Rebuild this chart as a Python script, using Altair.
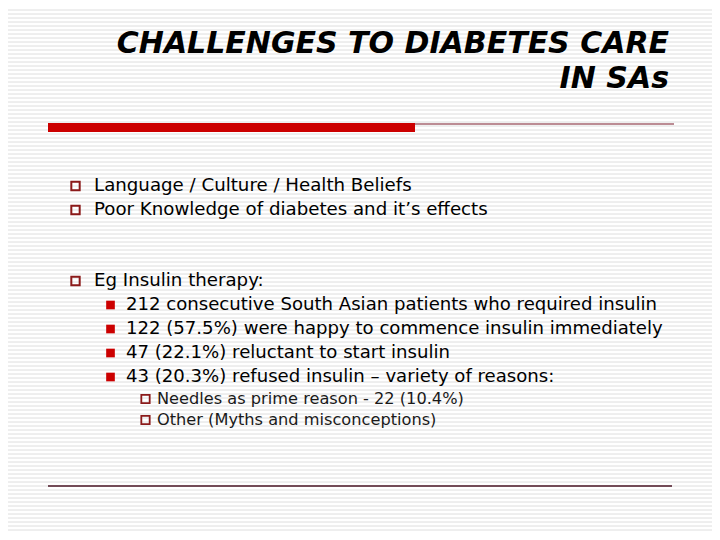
import altair as alt
import pandas as pd

# ---- content ----
title_lines = ["CHALLENGES TO DIABETES CARE", "IN SAs"]
level1_top = ["Language / Culture / Health Beliefs",
              "Poor Knowledge of diabetes and it\u2019s effects"]
level1_mid = ["Eg Insulin therapy:"]
level2 = ["212 consecutive South Asian patients who required insulin",
          "122 (57.5%) were happy to commence insulin immediately",
          "47 (22.1%) reluctant to start insulin",
          "43 (20.3%) refused insulin \u2013 variety of reasons:"]
level3 = ["Needles as prime reason - 22 (10.4%)",
          "Other (Myths and misconceptions)"]

# ---- layout (page pixel coordinates) ----
W, H = 720, 540
M = 8
title_right = 669
title_base = [53, 88]
l1_x, l1_bx = 94, 75.5
l2_x, l2_bx = 126, 110.5
l3_x, l3_bx = 157, 145.5
l1_top_base = [191, 215]
l1_mid_base = [286]
l2_base0, l2_step = 310, 24
l3_base0, l3_step = 404, 21

xs = alt.Scale(domain=[M, W - M], range=[0, W - 2 * M], nice=False, zero=False)
ys = alt.Scale(domain=[M, H - M], range=[0, H - 2 * M], nice=False, zero=False)
X = lambda f: alt.X(f, type="quantitative", scale=xs, axis=None)
Y = lambda f: alt.Y(f, type="quantitative", scale=ys, axis=None)
X2 = lambda f: alt.X2(f)
Y2 = lambda f: alt.Y2(f)

# background stripes
stripes = pd.DataFrame({"y": list(range(10, H - M, 4))})
bg = alt.Chart(stripes).mark_rule(color="#dedede", strokeWidth=1).encode(
    y=Y("y"), x=alt.value(0), x2=alt.value(W - 2 * M))

title_df = pd.DataFrame({"t": title_lines, "x": [title_right] * 2, "y": title_base})
title = alt.Chart(title_df).mark_text(
    align="right", baseline="alphabetic", font="DejaVu Sans", fontSize=30,
    fontStyle="italic", fontWeight="bold", color="#000000").encode(
    x=X("x"), y=Y("y"), text="t:N")

bar_df = pd.DataFrame({"x": [48], "x2": [415], "y": [123], "y2": [132]})
bar = alt.Chart(bar_df).mark_rect(color="#cc0000").encode(
    x=X("x"), x2=X2("x2"), y=Y("y"), y2=Y2("y2"))
thin_df = pd.DataFrame({"x": [415], "x2": [674], "y": [124]})
thin = alt.Chart(thin_df).mark_rule(color="#7a1a2a", strokeWidth=1.2).encode(
    x=X("x"), x2=X2("x2"), y=Y("y"))
bot_df = pd.DataFrame({"x": [48], "x2": [672], "y": [486]})
bot = alt.Chart(bot_df).mark_rule(color="#4a1424", strokeWidth=1.6).encode(
    x=X("x"), x2=X2("x2"), y=Y("y"))

l1_texts = level1_top + level1_mid
l1_bases = l1_top_base + l1_mid_base
l1_df = pd.DataFrame({"t": l1_texts, "x": [l1_x] * 3, "bx": [l1_bx] * 3,
                      "y": l1_bases, "by": [b - 5 for b in l1_bases]})
l2_bases = [l2_base0 + i * l2_step for i in range(len(level2))]
l2_df = pd.DataFrame({"t": level2, "x": [l2_x] * 4, "bx": [l2_bx] * 4,
                      "y": l2_bases, "by": [b - 5 for b in l2_bases]})
l3_bases = [l3_base0 + i * l3_step for i in range(len(level3))]
l3_df = pd.DataFrame({"t": level3, "x": [l3_x] * 2, "bx": [l3_bx] * 2,
                      "y": l3_bases, "by": [b - 5 for b in l3_bases]})

def text_layer(df, size, color="#000000"):
    return alt.Chart(df).mark_text(
        align="left", baseline="alphabetic", font="DejaVu Sans",
        fontSize=size, color=color).encode(
        x=X("x"), y=Y("y"), text="t:N")

t1 = text_layer(l1_df, 18.2)
t2 = text_layer(l2_df, 18.1)
t3 = text_layer(l3_df, 16.2, "#1a1a1a")

b1 = alt.Chart(l1_df).mark_point(shape="square", filled=False, size=70,
                                 strokeWidth=2, color="#8b1a1a", opacity=1).encode(
    x=X("bx"), y=Y("by"))
b2 = alt.Chart(l2_df).mark_point(shape="square", filled=True, size=75,
                                 color="#cc0000", opacity=1).encode(
    x=X("bx"), y=Y("by"))
b3 = alt.Chart(l3_df).mark_point(shape="square", filled=False, size=70,
                                 strokeWidth=1.8, color="#8b1a1a", opacity=1).encode(
    x=X("bx"), y=Y("by"))

chart = alt.layer(bg, title, bar, thin, bot, t1, t2, t3, b1, b2, b3).properties(
    width=W - 2 * M, height=H - 2 * M, padding=0, autosize="none",
    background="#ffffff"
).configure_view(stroke=None)

chart.save("out.html", embed_options={"renderer": "svg", "actions": False})
